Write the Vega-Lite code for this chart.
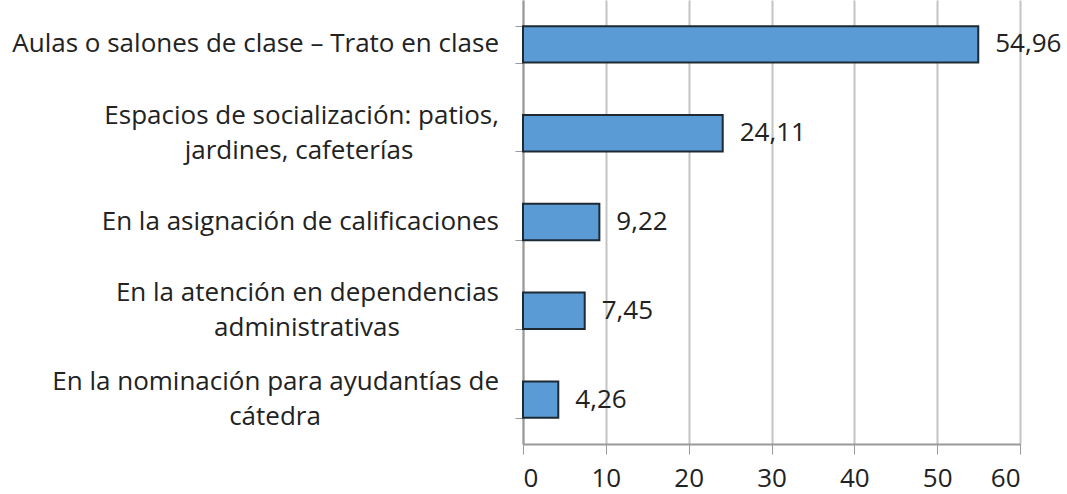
{
  "$schema": "https://vega.github.io/schema/vega-lite/v6.json",
  "width": 497,
  "height": 444,
  "autosize": {"type": "none"},
  "padding": {"left": 523, "top": 0, "right": 47, "bottom": 50},
  "background": "white",
  "config": {
    "view": {"stroke": null},
    "font": "Open Sans",
    "locale": {"number": {"decimal": ",", "thousands": ".", "grouping": [3], "currency": ["", ""]}}
  },
  "data": {
    "values": [
      {"cat": "Aulas o salones de clase – Trato en clase", "linea1": "Aulas o salones de clase – Trato en clase", "linea2": "", "valor": 54.96, "orden": 1},
      {"cat": "Espacios de socialización: patios, jardines, cafeterías", "linea1": "Espacios de socialización: patios,", "linea2": "jardines, cafeterías", "valor": 24.11, "orden": 2},
      {"cat": "En la asignación de calificaciones", "linea1": "En la asignación de calificaciones", "linea2": "", "valor": 9.22, "orden": 3},
      {"cat": "En la atención en dependencias administrativas", "linea1": "En la atención en dependencias", "linea2": "administrativas", "valor": 7.45, "orden": 4},
      {"cat": "En la nominación para ayudantías de cátedra", "linea1": "En la nominación para ayudantías de", "linea2": "cátedra", "valor": 4.26, "orden": 5}
    ]
  },
  "encoding": {
    "y": {
      "field": "cat",
      "type": "nominal",
      "sort": [
        "Aulas o salones de clase – Trato en clase",
        "Espacios de socialización: patios, jardines, cafeterías",
        "En la asignación de calificaciones",
        "En la atención en dependencias administrativas",
        "En la nominación para ayudantías de cátedra"
      ],
      "scale": {"paddingInner": 0.59, "paddingOuter": 0.295},
      "axis": {
        "title": null,
        "labels": false,
        "tickBand": "extent",
        "tickSize": 8,
        "tickColor": "#999999",
        "domainColor": "#999999",
        "domainWidth": 2,
        "grid": false
      }
    }
  },
  "layer": [
    {
      "mark": {"type": "bar", "color": "#5B9BD5", "stroke": "#1e2a33", "strokeWidth": 2},
      "encoding": {
        "x": {
          "field": "valor",
          "type": "quantitative",
          "scale": {"domain": [0, 60], "nice": false},
          "axis": {
            "title": null,
            "values": [0, 10, 20, 30, 40, 50, 60],
            "format": "d",
            "labelFontSize": 26,
            "labelColor": "#222222",
            "labelPadding": 11,
            "tickSize": 10,
            "tickColor": "#999999",
            "domainColor": "#999999",
            "domainWidth": 2,
            "grid": true,
            "gridColor": "#c4c4c4",
            "gridWidth": 2
          }
        }
      }
    },
    {
      "mark": {"type": "text", "align": "left", "baseline": "middle", "dx": 17, "fontSize": 26, "color": "#222222"},
      "encoding": {
        "x": {"field": "valor", "type": "quantitative"},
        "text": {"field": "valor", "type": "quantitative", "format": ".2f"}
      }
    },
    {
      "transform": [{"filter": "datum.linea2 == ''"}],
      "mark": {"type": "text", "align": "right", "baseline": "middle", "dx": -24, "fontSize": 26, "color": "#222222"},
      "encoding": {
        "x": {"datum": 0, "type": "quantitative"},
        "text": {"field": "linea1"}
      }
    },
    {
      "transform": [{"filter": "datum.linea2 != ''"}],
      "mark": {"type": "text", "align": "right", "baseline": "middle", "dx": -24, "dy": -17.5, "fontSize": 26, "color": "#222222"},
      "encoding": {
        "x": {"datum": 0, "type": "quantitative"},
        "text": {"field": "linea1"}
      }
    },
    {
      "transform": [{"filter": "datum.orden == 2"}],
      "mark": {"type": "text", "align": "center", "baseline": "middle", "dx": -224, "dy": 17.5, "fontSize": 26, "color": "#222222"},
      "encoding": {
        "x": {"datum": 0, "type": "quantitative"},
        "text": {"field": "linea2"}
      }
    },
    {
      "transform": [{"filter": "datum.orden == 4"}],
      "mark": {"type": "text", "align": "center", "baseline": "middle", "dx": -216, "dy": 17.5, "fontSize": 26, "color": "#222222"},
      "encoding": {
        "x": {"datum": 0, "type": "quantitative"},
        "text": {"field": "linea2"}
      }
    },
    {
      "transform": [{"filter": "datum.orden == 5"}],
      "mark": {"type": "text", "align": "center", "baseline": "middle", "dx": -248, "dy": 17.5, "fontSize": 26, "color": "#222222"},
      "encoding": {
        "x": {"datum": 0, "type": "quantitative"},
        "text": {"field": "linea2"}
      }
    }
  ]
}
